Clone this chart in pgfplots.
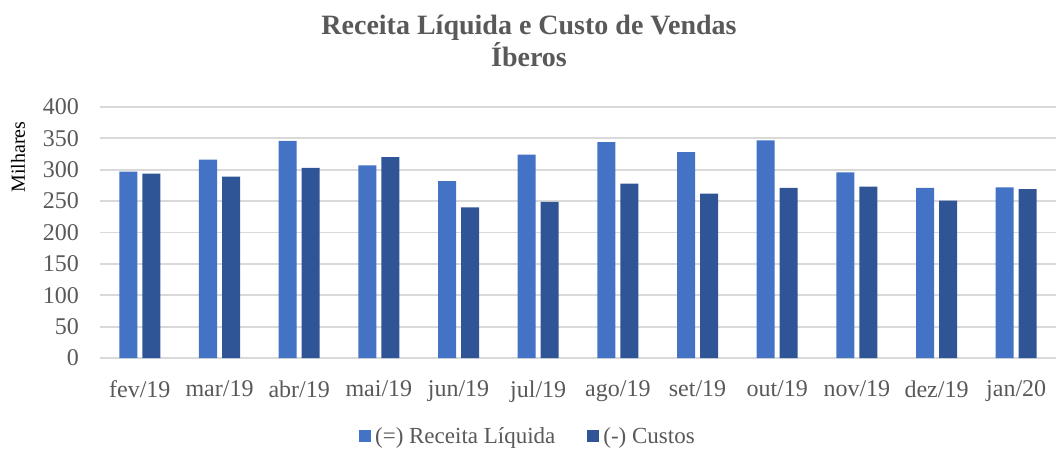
\documentclass[border=0pt]{standalone}
\usepackage{pgfplots}
\pgfplotsset{compat=1.18}
\usepackage{fontspec}
\setmainfont{Liberation Serif}
\definecolor{rec}{HTML}{4472C4}
\definecolor{cst}{HTML}{2F5597}
\definecolor{txt}{HTML}{595959}
\definecolor{grd}{HTML}{D9D9D9}
\begin{document}
\begin{tikzpicture}
\useasboundingbox (-50pt,-46pt) rectangle (479pt,179pt);
\begin{axis}[
  scale only axis,
  width=478pt, height=125.5pt,
  at={(0pt,0pt)}, anchor=south west,
  ybar=2.5pt, bar width=9pt,
  xmin=-0.5, xmax=11.5,
  ymin=0, ymax=400,
  ytick={0,50,...,400},
  xtick={0,...,11},
  xticklabels={fev/19,mar/19,abr/19,mai/19,jun/19,jul/19,ago/19,set/19,out/19,nov/19,dez/19,jan/20},
  ymajorgrids, grid style={grd, line width=0.9pt},
  axis line style={draw=none},
  major tick style={draw=none},
  tick label style={font=\fontsize{12}{13}\selectfont, text=txt},
  /pgf/number format/assume math mode=true,
  ylabel={Milhares}, ylabel style={font=\fontsize{12.5}{13}\selectfont, text=txt},
  every axis y label/.style={at={(-41pt,0.8)}, rotate=90, anchor=center},
  yticklabel style={xshift=-7pt},
  xticklabel style={yshift=-3.5pt},
  legend columns=2,
  legend style={at={(0.4487,-0.3147)}, anchor=center, draw=none, font=\fontsize{11.5}{13}\selectfont, text=txt, /tikz/every even column/.append style={column sep=14pt}},
  legend image code/.code={\fill[#1] (0pt,-2.5pt) rectangle (6pt,3.5pt);},
]
\addplot[fill=rec, draw=none] coordinates {(0,297) (1,316) (2,346) (3,307) (4,282) (5,324) (6,344) (7,328) (8,347) (9,296) (10,271) (11,272)};
\addplot[fill=cst, draw=none] coordinates {(0,294) (1,289) (2,303) (3,320) (4,240) (5,249) (6,278) (7,262) (8,271) (9,273) (10,251) (11,269)};
\legend{(=) Receita Líquida,(-) Custos}
\end{axis}
\node[text=txt, font=\bfseries\fontsize{14}{16}\selectfont, anchor=base] at (214.5pt,161.5pt) {Receita Líquida e Custo de Vendas};
\node[text=txt, font=\bfseries\fontsize{14}{16}\selectfont, anchor=base] at (214.5pt,145.5pt) {Íberos};
\end{tikzpicture}
\end{document}
